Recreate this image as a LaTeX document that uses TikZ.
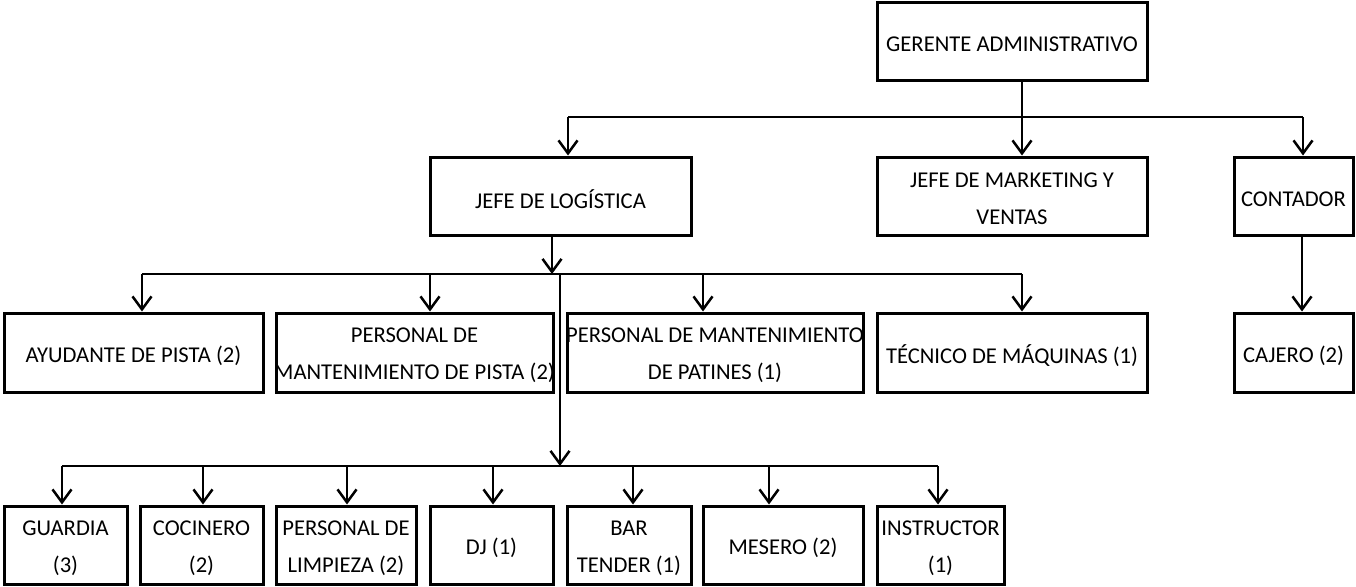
\documentclass[tikz,border=0pt]{standalone}
\usepackage{fontspec}
\setmainfont{Carlito}
\usetikzlibrary{arrows.meta}
\tikzset{
  box/.style={draw, line width=3pt, inner sep=0pt},
  lbl/.style={align=center, inner sep=0pt, yshift=-3pt,
    font=\fontsize{22.6}{37}\selectfont},
  conn/.style={line width=2.5pt},
  arr/.style={line width=2.5pt, -{Straight Barb[length=13pt,width=19pt,line width=2.5pt]}}
}
\begin{document}
\begin{tikzpicture}[x=1pt,y=-1pt]
\useasboundingbox (0,0) rectangle (1356,586);
% level 0
\node[box, minimum width=270pt, minimum height=77pt, label={[lbl]center:{GERENTE ADMINISTRATIVO}}] (ger) at (1012,41.5) {};
% level 1
\node[box, minimum width=261pt, minimum height=78pt, label={[lbl]center:{JEFE DE LOGÍSTICA}}] (log) at (560.5,196) {};
\node[box, minimum width=270pt, minimum height=78pt, label={[lbl]center:{JEFE DE MARKETING Y\\VENTAS}}] (mkt) at (1012,196) {};
\node[box, minimum width=119pt, minimum height=78pt, label={[lbl]center:{CONTADOR}}] (con) at (1293.5,196) {};
% level 2
\node[box, minimum width=259pt, minimum height=79pt, label={[lbl]center:{AYUDANTE DE PISTA (2)}}] (ayu) at (133.5,352.5) {};
\node[box, minimum width=277pt, minimum height=79pt, label={[lbl]center:{PERSONAL DE\\MANTENIMIENTO DE PISTA (2)}}] (pis) at (414.5,352.5) {};
\node[box, minimum width=296pt, minimum height=79pt, label={[lbl]center:{PERSONAL DE MANTENIMIENTO\\DE PATINES (1)}}] (pat) at (715,352.5) {};
\node[box, minimum width=270pt, minimum height=79pt, label={[lbl]center:{TÉCNICO DE MÁQUINAS (1)}}] (tec) at (1012,352.5) {};
\node[box, minimum width=119pt, minimum height=79pt, label={[lbl]center:{CAJERO (2)}}] (caj) at (1293.5,352.5) {};
% level 3
\node[box, minimum width=123pt, minimum height=78pt, label={[lbl]center:{GUARDIA\\(3)}}] (gua) at (65.5,545) {};
\node[box, minimum width=123pt, minimum height=78pt, label={[lbl]center:{COCINERO\\(2)}}] (coc) at (201.5,545) {};
\node[box, minimum width=140pt, minimum height=78pt, label={[lbl]center:{PERSONAL DE\\LIMPIEZA (2)}}] (lim) at (346,545) {};
\node[box, minimum width=123pt, minimum height=78pt, label={[lbl]center:{DJ (1)}}] (dj) at (491.5,545) {};
\node[box, minimum width=124pt, minimum height=78pt, label={[lbl]center:{BAR\\TENDER (1)}}] (bar) at (629,545) {};
\node[box, minimum width=160pt, minimum height=78pt, label={[lbl]center:{MESERO (2)}}] (mes) at (783,545) {};
\node[box, minimum width=127pt, minimum height=78pt, label={[lbl]center:{INSTRUCTOR\\(1)}}] (ins) at (940.5,545) {};
% bus coordinates
\coordinate (g1) at (1022,117);
\coordinate (b1L) at (568,117);
\coordinate (b1R) at (1303,117);
\coordinate (j1) at (552,274);
\coordinate (b2L) at (142,274);
\coordinate (b2R) at (1022,274);
\coordinate (v1) at (560,274);
\coordinate (v2) at (560,466);
\coordinate (b3L) at (62,466);
\coordinate (b3R) at (938,466);
% level 0 -> 1
\draw[conn] (ger.south -| g1) -- (g1);
\draw[conn] (b1L) -- (b1R);
\draw[arr] (b1L) -- (log.north -| b1L);
\draw[arr] (g1) -- (mkt.north -| g1);
\draw[arr] (b1R) -- (con.north -| b1R);
% level 1 -> 2
\draw[arr] (log.south -| j1) -- (j1);
\draw[conn] (b2L) -- (b2R);
\draw[arr] (b2L) -- (ayu.north -| b2L);
\draw[arr] (430,274) -- (pis.north -| 430,0);
\draw[arr] (703,274) -- (pat.north -| 703,0);
\draw[arr] (b2R) -- (tec.north -| b2R);
\draw[arr] (con.south -| 1302,0) -- (caj.north -| 1302,0);
% level 2 -> 3
\draw[conn] (v1) -- (v2);
\draw[arr] (560,440) -- (v2);
\draw[conn] (b3L) -- (b3R);
\draw[arr] (b3L) -- (gua.north -| b3L);
\draw[arr] (203,466) -- (coc.north -| 203,0);
\draw[arr] (347,466) -- (lim.north -| 347,0);
\draw[arr] (493,466) -- (dj.north -| 493,0);
\draw[arr] (633,466) -- (bar.north -| 633,0);
\draw[arr] (769,466) -- (mes.north -| 769,0);
\draw[arr] (b3R) -- (ins.north -| b3R);
\end{tikzpicture}
\end{document}
